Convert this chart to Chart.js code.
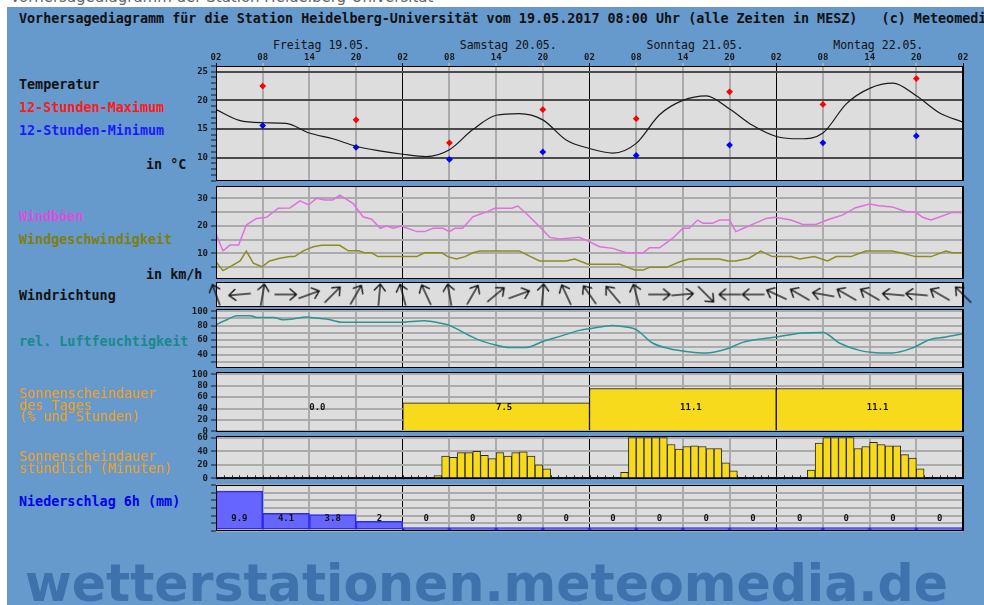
<!DOCTYPE html>
<html lang="de">
<head>
<meta charset="utf-8">
<title>Vorhersagediagramm Heidelberg-Universität</title>
<script src="https://cdn.jsdelivr.net/npm/chart.js@4.4.1/dist/chart.umd.min.js"></script>
<style>
  html, body { margin: 0; padding: 0; }
  body { position: relative; width: 984px; height: 605px; overflow: hidden; background: #fff;
         font-family: "DejaVu Sans Mono", monospace; }
  #frame { position: absolute; left: 7px; top: 7px; right: 0; bottom: 0; background: #6699cc; }
  .lbl { position: absolute; white-space: pre; font-size: 13.4px; line-height: 14px; }
  .b { font-weight: bold; }
  canvas { position: absolute; }
  #pageHead { position: absolute; left: 10px; top: -10px; font: 15px "DejaVu Sans", sans-serif;
              color: #666; white-space: pre; line-height: 15px; }
  #mark { position: absolute; left: 25px; top: 558px; font: bold 51px "DejaVu Sans", sans-serif;
          line-height: 51px; color: #3d72ac; white-space: pre; transform-origin: 0 0; }
</style>
</head>
<body>
<div id="pageHead">Vorhersagediagramm der Station Heidelberg-Universität</div>
<div id="frame"></div>
<div class="lbl b" style="left:19px;top:12px;color:#111">Vorhersagediagramm für die Station Heidelberg-Universität vom 19.05.2017 08:00 Uhr (alle Zeiten in MESZ)   (c) Meteomedia</div>
<div id="mark">wetterstationen.meteomedia.de</div>

<script>
// ---- data (hours counted from Friday 02:00) ----
const START_HOUR = 2;
const dayNames = ['Freitag 19.05.', 'Samstag 20.05.', 'Sonntag 21.05.', 'Montag 22.05.'];

const tempHours = [0, 3, 6, 9, 12, 15, 18, 21, 24, 27, 30, 33, 36, 39, 42, 45, 48, 51, 54, 57, 60, 63, 66, 69, 72, 75, 78, 81, 84, 87, 90, 93, 96];
const temp = [18.4, 16.5, 16.1, 16.0, 14.3, 13.3, 12.0, 11.2, 10.6, 10.2, 11.4, 14.9, 17.4, 17.7, 16.6, 13.1, 11.6, 10.8, 12.5, 17.5, 20.0, 20.8, 18.5, 15.6, 13.7, 13.3, 14.3, 19.4, 22.1, 23.0, 20.8, 17.8, 16.2];

const extremeHours = [6, 18, 30, 42, 54, 66, 78, 90];
const tempMax = [22.5, 16.6, 12.6, 18.4, 16.8, 21.5, 19.3, 23.8];
const tempMin = [15.6, 11.8, 9.7, 11.0, 10.4, 12.2, 12.6, 13.8];

const gustHours = [0, 0.9, 1.8, 2.9, 3.9, 5.2, 6.5, 8.0, 9.5, 10.8, 11.9, 12.9, 14.0, 15.0, 15.9, 17.6, 18.9, 20.0, 21.1, 21.9, 22.8, 23.8, 25.8, 26.8, 27.9, 29.2, 30.0, 30.7, 31.7, 33.0, 34.8, 35.8, 38.0, 38.8, 40.3, 41.6, 42.9, 44.2, 46.7, 48.0, 49.3, 51.0, 52.7, 54.9, 55.7, 57.0, 58.7, 60.0, 60.8, 61.9, 62.6, 63.8, 64.7, 66.0, 66.8, 68.1, 69.4, 70.7, 71.8, 73.9, 75.4, 77.1, 78.8, 80.5, 82.2, 84.0, 85.2, 86.9, 88.7, 89.9, 90.8, 91.9, 92.9, 94.6, 96];
const gust = [17.0, 10.9, 13.0, 13.0, 20.3, 22.7, 23.1, 26.4, 26.5, 29.1, 27.6, 30.0, 29.4, 29.4, 31.2, 28.2, 23.3, 22.4, 19.1, 19.9, 19.1, 19.9, 17.9, 17.9, 19.1, 19.1, 17.9, 19.1, 19.1, 23.3, 25.1, 26.4, 26.4, 27.2, 23.3, 19.7, 15.8, 15.2, 15.8, 14.2, 12.4, 11.8, 10.2, 10.2, 12.0, 12.0, 15.5, 19.1, 19.1, 22.1, 20.9, 20.9, 22.1, 22.1, 17.9, 19.5, 21.1, 22.7, 23.1, 22.1, 20.5, 20.5, 22.4, 23.9, 26.6, 27.9, 27.3, 26.9, 25.1, 25.1, 23.1, 22.1, 23.1, 24.9, 24.9];

const windHours = [0, 0.9, 2.0, 3.1, 3.9, 4.8, 5.9, 6.9, 8.2, 9.5, 10.1, 11.2, 12.5, 13.6, 15.9, 17.0, 18.3, 19.1, 20.0, 20.8, 25.8, 26.8, 29.0, 29.8, 30.9, 32.0, 33.0, 33.9, 39.0, 40.3, 41.6, 45.0, 46.1, 47.8, 51.9, 53.8, 54.9, 55.7, 57.9, 59.6, 60.8, 64.7, 65.8, 66.8, 68.5, 70.0, 71.5, 73.9, 75.0, 76.9, 78.6, 79.7, 81.6, 83.5, 86.9, 88.2, 89.9, 91.9, 93.8, 94.6, 96];
const wind = [6.9, 3.7, 5.4, 7.2, 10.8, 6.4, 5.1, 7.2, 8.2, 8.8, 8.8, 10.9, 12.4, 12.9, 12.9, 10.9, 10.9, 10.2, 10.2, 8.8, 8.8, 10.2, 10.2, 8.8, 7.9, 8.8, 10.2, 10.8, 10.8, 9.0, 7.2, 7.2, 7.9, 6.0, 6.0, 3.9, 3.9, 4.9, 4.9, 6.9, 7.9, 7.9, 7.2, 7.2, 8.2, 10.8, 8.8, 8.8, 7.9, 8.8, 7.2, 8.8, 8.8, 10.8, 10.8, 10.0, 8.8, 8.8, 10.8, 10.2, 10.2];

// wind direction: arrow heading in degrees, 0 = up, clockwise
const dirHours = [0, 3, 6, 9, 12, 15, 18, 21, 24, 27, 30, 33, 36, 39, 42, 45, 48, 51, 54, 57, 60, 63, 66, 69, 72, 75, 78, 81, 84, 87, 90, 93, 96];
const dirDeg = [-20, -95, 10, 90, 70, 45, 30, 5, -15, -25, -10, 30, 50, 70, 5, -25, -35, -40, -15, 90, 85, 135, -90, -90, -65, -60, -80, -60, -60, -85, -85, -60, -45];

const humHours = [0, 1.4, 2.7, 4.4, 5.2, 7.4, 8.6, 9.9, 11.6, 12.5, 14.2, 16.3, 23.6, 26.8, 27.5, 29.2, 29.8, 31.3, 32.6, 33.9, 35.8, 37.7, 39.9, 42.0, 44.2, 46.7, 48.0, 51.0, 52.7, 54.0, 56.1, 58.3, 60.4, 63.0, 65.6, 67.7, 70.3, 72.0, 75.4, 78.0, 80.1, 82.7, 84.4, 86.9, 89.5, 91.7, 93.8, 96];
const hum = [81.4, 88.3, 93.9, 93.9, 91.5, 91.5, 88.3, 89.3, 92.1, 91.0, 89.3, 84.6, 84.6, 86.9, 86.0, 82.8, 81.4, 73.5, 66.1, 59.6, 53.7, 49.9, 49.9, 58.2, 65.2, 73.5, 75.8, 80.4, 78.2, 74.5, 56.0, 48.1, 44.4, 42.2, 47.7, 56.9, 62.0, 64.3, 69.9, 70.7, 56.0, 45.8, 43.0, 42.2, 49.1, 60.6, 64.3, 68.9];

const sunDayPct = [0, 50, 75, 75];
const sunDayHrs = ['0.0', '7.5', '11.1', '11.1'];

// minutes of sunshine per hour, 96 hours
const sunMinutes = [
  0, 0, 0, 0, 0, 0, 0, 0, 0, 0, 0, 0, 0, 0, 0, 0, 0, 0, 0, 0, 0, 0, 0, 0,
  0, 0, 0, 0, 4, 33, 31, 38, 38, 40, 34, 29, 38, 33, 38, 39, 33, 20, 14, 0, 0, 0, 0, 0,
  0, 0, 0, 0, 9, 60, 60, 60, 60, 60, 50, 43, 47, 48, 47, 44, 44, 23, 11, 0, 0, 0, 0, 0,
  0, 0, 0, 0, 12, 52, 60, 60, 60, 60, 44, 47, 53, 50, 48, 48, 35, 30, 14, 0, 0, 0, 0, 0
];

const rain6h = [9.9, 4.1, 3.8, 2, 0, 0, 0, 0, 0, 0, 0, 0, 0, 0, 0, 0];

// ---- layout ----
const FONT = '"DejaVu Sans Mono", monospace';
const PLOT_L = 216, PLOT_R = 963, CANVAS_L = 160, PAD = 10;
const DAY_PX = (PLOT_R - PLOT_L) / 4;

Chart.defaults.font.family = FONT;
Chart.defaults.animation = false;
Chart.defaults.responsive = false;
Chart.defaults.events = [];
Chart.defaults.plugins.legend.display = false;
Chart.defaults.plugins.tooltip.enabled = false;

const panelFrame = {
  id: 'panelFrame',
  beforeDraw(chart) {
    const a = chart.chartArea, c = chart.ctx;
    c.save();
    c.fillStyle = '#dddddd';
    c.fillRect(a.left, a.top, a.width, a.height);
    c.restore();
  },
  afterDraw(chart) {
    const a = chart.chartArea, c = chart.ctx;
    c.save();
    c.strokeStyle = '#000';
    c.lineWidth = 1;
    c.strokeRect(Math.round(a.left) + 0.5, Math.round(a.top) + 0.5, Math.round(a.width) - 1, Math.round(a.height) - 1);
    c.restore();
  }
};

const barText = {
  id: 'barText',
  afterDatasetsDraw(chart, args, opts) {
    if (!opts.texts) return;
    const meta = chart.getDatasetMeta(0);
    const y = chart.scales.y.getPixelForValue(opts.at);
    const c = chart.ctx;
    c.save();
    c.font = 'bold 9px ' + FONT;
    c.fillStyle = '#111';
    c.textAlign = 'center';
    c.textBaseline = 'middle';
    meta.data.forEach((bar, i) => c.fillText(opts.texts[i], bar.x + (opts.dx || 0), y));
    c.restore();
  }
};

// little hour marks on the sunshine baseline where there is no bar
const zeroTicks = {
  id: 'zeroTicks',
  afterDatasetsDraw(chart, args, opts) {
    if (!opts.values) return;
    const meta = chart.getDatasetMeta(0);
    const y0 = chart.scales.y.getPixelForValue(0);
    const c = chart.ctx;
    c.save();
    c.strokeStyle = '#222';
    c.lineWidth = 1;
    c.beginPath();
    meta.data.forEach((bar, i) => {
      if (opts.values[i] !== 0) return;
      const x = Math.round(bar.x - bar.width / 2) + 0.5;
      c.moveTo(x, y0 - 3);
      c.lineTo(x, y0 + 1);
    });
    c.stroke();
    c.restore();
  }
};

Chart.register(panelFrame, barText, zeroTicks);

const pts = (xs, ys) => xs.map((x, i) => ({ x, y: ys[i] }));
const isDay = c => !c.tick || c.tick.value % 24 === 0;
const vColor = c => (isDay(c) ? '#000' : '#ababab');
const vWidth = c => (isDay(c) ? 1 : 2);

function gridX(extra) {
  return Object.assign({
    type: 'linear', min: 0, max: 96, position: 'bottom', offset: false,
    ticks: { display: false, stepSize: 6 },
    grid: { color: vColor, lineWidth: vWidth, drawTicks: false, offset: false },
    border: { display: false },
    afterFit: s => { s.height = 0; }
  }, extra || {});
}

function axisY(min, max, step, labelEvery, gridCol, size) {
  return {
    min, max,
    ticks: {
      stepSize: step, includeBounds: false, autoSkip: false, padding: 3, color: '#1a1a1a',
      font: { size: size || 9, weight: 'bold' },
      callback: v => (Math.abs(v / labelEvery - Math.round(v / labelEvery)) < 1e-6 ? v : '')
    },
    grid: { color: gridCol, lineWidth: 2, drawTicks: true, tickLength: 5, tickColor: '#1a1a1a', tickWidth: 1 },
    border: { display: false },
    afterFit: s => { s.width = PLOT_L - CANVAS_L; }
  };
}

function makeChart(top, height, extraTop, config) {
  const cv = document.createElement('canvas');
  cv.width = 984 - CANVAS_L;
  cv.height = height + extraTop + 2 * PAD;
  cv.style.left = CANVAS_L + 'px';
  cv.style.top = (top - extraTop - PAD) + 'px';
  document.body.appendChild(cv);
  config.options = Object.assign({
    layout: { padding: { top: PAD, bottom: PAD, left: 0, right: 984 - PLOT_R } }
  }, config.options);
  return new Chart(cv, config);
}

// ---- text labels ----
function addText(txt, x, yMid, color, bold, size, lh) {
  const d = document.createElement('div');
  d.className = 'lbl' + (bold ? ' b' : '');
  d.textContent = txt;
  d.style.left = x + 'px';
  d.style.color = color;
  if (size) d.style.fontSize = size + 'px';
  const lineH = lh || 14;
  d.style.lineHeight = lineH + 'px';
  d.style.top = (yMid - lineH / 2) + 'px';
  document.body.appendChild(d);
}

dayNames.forEach((n, i) => addText(n, PLOT_L + i * DAY_PX + 57, 45, '#111', false, 11.5));

addText('Temperatur', 19, 85, '#111', true);
addText('12-Stunden-Maximum', 19, 108, '#ff1a1a', true);
addText('12-Stunden-Minimum', 19, 131, '#1a1aff', true);
addText('in °C', 146, 165, '#111', true);
addText('Windböen', 19, 217, '#dc50dc', true);
addText('Windgeschwindigkeit', 19, 240, '#7f7f10', true);
addText('in km/h', 146, 275, '#111', true);
addText('Windrichtung', 19, 296, '#111', true);
addText('rel. Luftfeuchtigkeit', 19, 342, '#178a8a', true);
addText('Sonnenscheindauer\ndes Tages\n(% und Stunden)', 19, 394, '#f0a020', false, 13.4, 11.5);
addText('Sonnenscheindauer\nstündlich (Minuten)', 19, 457, '#f0a020', false, 13.4, 11.5);
addText('Niederschlag 6h (mm)', 19, 502, '#0000ee', true);

// ---- panels ----
// Temperatur
makeChart(66, 115, 16, {
  type: 'line',
  data: { datasets: [
    { data: pts(tempHours, temp), borderColor: '#1a1a1a', borderWidth: 1.2, pointRadius: 0, cubicInterpolationMode: 'monotone' },
    { data: pts(extremeHours, tempMax), showLine: false, pointStyle: 'rectRot', pointRadius: 3.4, pointBackgroundColor: '#ff0000', pointBorderWidth: 0 },
    { data: pts(extremeHours, tempMin), showLine: false, pointStyle: 'rectRot', pointRadius: 3.4, pointBackgroundColor: '#0000ff', pointBorderWidth: 0 }
  ] },
  options: { scales: {
    x: {
      type: 'linear', min: 0, max: 96, position: 'top',
      ticks: { stepSize: 6, autoSkip: false, maxRotation: 0, padding: 0, color: '#1a1a1a',
               font: { size: 9, weight: 'bold' },
               callback: v => String((v + START_HOUR) % 24).padStart(2, '0') },
      grid: { color: vColor, lineWidth: vWidth, drawTicks: true, tickLength: 3 },
      border: { display: false },
      afterFit: s => { s.height = 16; }
    },
    y: axisY(5.93, 26, 1, 5, c => (c.tick && c.tick.value % 5 === 0 ? '#4a4a4a' : 'rgba(0,0,0,0)'))
  } }
});

// Wind
makeChart(186, 93, 0, {
  type: 'line',
  data: { datasets: [
    { data: pts(gustHours, gust), borderColor: '#e070e0', borderWidth: 1.5, pointRadius: 0, tension: 0 },
    { data: pts(windHours, wind), borderColor: '#8c8c20', borderWidth: 1.5, pointRadius: 0, tension: 0 }
  ] },
  options: { scales: { x: gridX(), y: axisY(0.65, 34.5, 5, 10, '#ababab') } }
});

// Windrichtung
const arrowImg = (() => {
  const c = document.createElement('canvas');
  c.width = 24; c.height = 24;
  const g = c.getContext('2d');
  g.strokeStyle = '#111';
  g.lineWidth = 1.3;
  g.lineCap = 'round';
  g.beginPath();
  g.moveTo(12, 23); g.lineTo(12, 1.5);
  g.moveTo(6.5, 8); g.lineTo(12, 1.5); g.lineTo(17.5, 8);
  g.stroke();
  return c;
})();

makeChart(282, 25, 0, {
  type: 'line',
  data: { datasets: [
    { data: dirHours.map(h => ({ x: h, y: 0 })), showLine: false, pointStyle: arrowImg,
      pointRotation: c => dirDeg[c.dataIndex], clip: false }
  ] },
  options: { scales: {
    x: gridX(),
    y: { min: -1, max: 1, ticks: { display: false }, grid: { display: false }, border: { display: false },
         afterFit: s => { s.width = PLOT_L - CANVAS_L; } }
  } }
});

// Luftfeuchtigkeit
makeChart(309, 59, 0, {
  type: 'line',
  data: { datasets: [
    { data: pts(humHours, hum), borderColor: '#2b9595', borderWidth: 1.5, pointRadius: 0, cubicInterpolationMode: 'monotone' }
  ] },
  options: { scales: { x: gridX(), y: axisY(21.4, 103.1, 10, 20, '#ababab') } }
});

// Sonnenscheindauer des Tages
makeChart(372, 60, 0, {
  type: 'bar',
  data: { datasets: [
    { xAxisID: 'xb', data: sunDayPct.map((v, i) => ({ x: 24 * i + 12, y: v })),
      backgroundColor: '#f7da1c', borderColor: '#111', borderWidth: 1, borderSkipped: 'start',
      barPercentage: 1, categoryPercentage: 1 }
  ] },
  options: {
    plugins: { barText: { texts: sunDayHrs, at: 41, dx: 8 } },
    scales: {
      x: gridX(),
      xb: gridX({ ticks: { display: false, stepSize: 24 }, grid: { display: false, offset: false } }),
      y: axisY(-1.2, 104, 20, 20, '#ababab')
    }
  }
});

// Sonnenscheindauer stündlich
makeChart(436, 43, 0, {
  type: 'bar',
  data: { datasets: [
    { data: sunMinutes.map((v, i) => ({ x: i + 0.5, y: v })),
      backgroundColor: '#f7da1c', borderColor: '#2a2a2a', borderWidth: 1, borderSkipped: 'start',
      barPercentage: 1, categoryPercentage: 1 }
  ] },
  options: {
    plugins: { zeroTicks: { values: sunMinutes } },
    scales: { x: gridX(), y: axisY(-1, 62.5, 20, 20, c => (c.tick && c.tick.value === 0 ? '#111' : '#ababab')) }
  }
});

// Niederschlag
makeChart(485, 46, 0, {
  type: 'bar',
  data: { datasets: [
    { data: rain6h.map((v, i) => ({ x: 6 * i + 3, y: v })),
      backgroundColor: '#6666ff', borderColor: '#2a2af0', borderWidth: 1.5, borderSkipped: false,
      minBarLength: 3, barPercentage: 1, categoryPercentage: 1 }
  ] },
  options: {
    plugins: { barText: { texts: rain6h.map(v => String(v)), at: 2.6 } },
    scales: { x: gridX(), y: axisY(-0.5, 11.5, 2, 2, '#ababab', 8.5) }
  }
});

// fit the watermark to its width in the picture
const mark = document.getElementById('mark');
mark.style.transform = 'scaleX(' + (923 / mark.getBoundingClientRect().width) + ')';
</script>
</body>
</html>
